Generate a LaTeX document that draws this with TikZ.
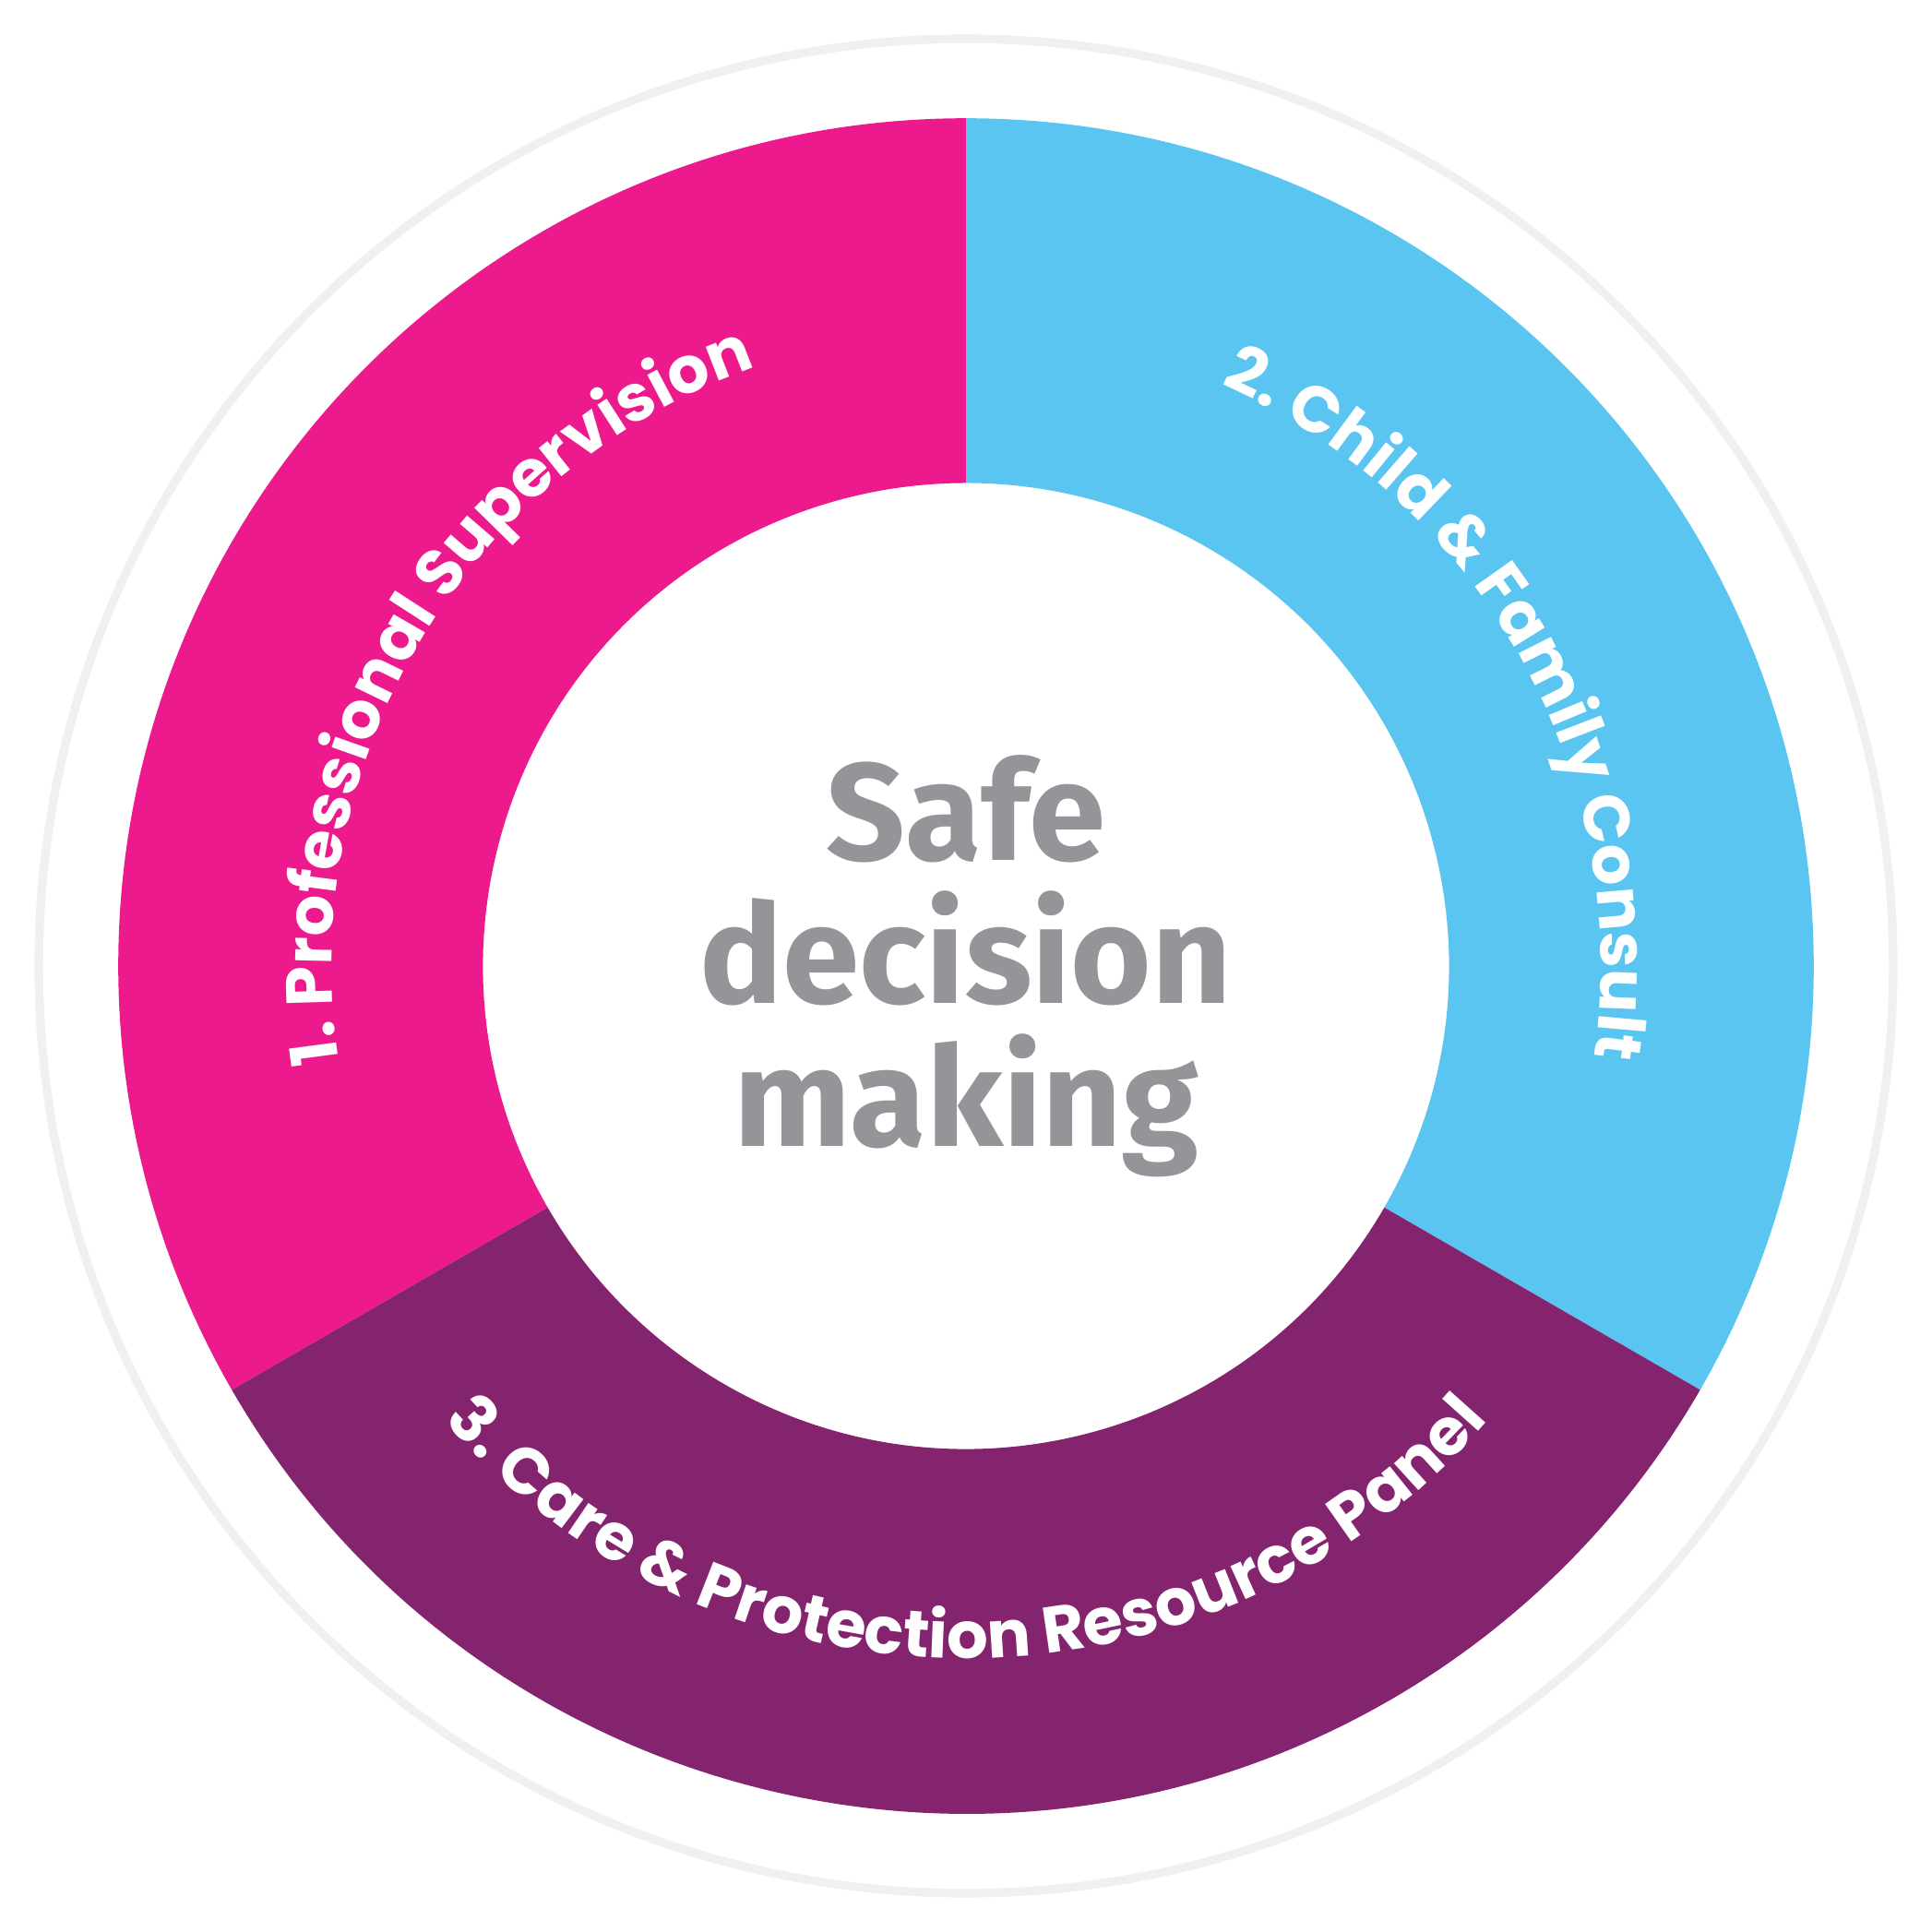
\documentclass[tikz,border=0pt]{standalone}
\usepackage{fontspec}
\setmainfont{Fira Sans}
\newfontfamily\ringfont{Poppins Bold}
\newfontfamily\hubfont{Fira Sans Bold}
\usetikzlibrary{decorations.text}
\definecolor{pinkseg}{HTML}{EC1A8C}
\definecolor{blueseg}{HTML}{5BC5F2}
\definecolor{purpleseg}{HTML}{84246F}
\definecolor{hubgray}{HTML}{939598}
\tikzset{
  segtext/.style={decorate,decoration={text along path,text align=center,
    text color=white,text={|\fontsize{15}{15}\ringfont|#1}}}
}
\begin{document}
\begin{tikzpicture}
  \useasboundingbox (-7.84,-7.84) rectangle (7.84,7.84);
  % outer disc with soft rim
  \fill[gray!12] (0,0) circle (7.56);
  \fill[white] (0,0) circle (7.49);
  % ring segments
  \fill[pinkseg] (90:6.88) arc (90:210:6.88) -- (210:3.92) arc (210:90:3.92) -- cycle;
  \fill[blueseg] (90:6.88) arc (90:-30:6.88) -- (-30:3.92) arc (-30:90:3.92) -- cycle;
  \fill[purpleseg] (210:6.88) arc (210:330:6.88) -- (330:3.92) arc (330:210:3.92) -- cycle;
  % labels along the ring
  \path[segtext={1. Professional Supervision}] (196:5.15) arc (196:102:5.15);
  \path[segtext={2. Child {\&} Family Consult}] (76:5.15) arc (76:-18:5.15);
  \path[segtext={3. Care {\&} Protection Resource Panel}] (214:5.62) arc (214:326:5.62);
  % hub
  \node[text=hubgray,align=center,font=\fontsize{32}{33}\hubfont] (hub) at (0,0) {Safe\\decision\\making};
\end{tikzpicture}
\end{document}
